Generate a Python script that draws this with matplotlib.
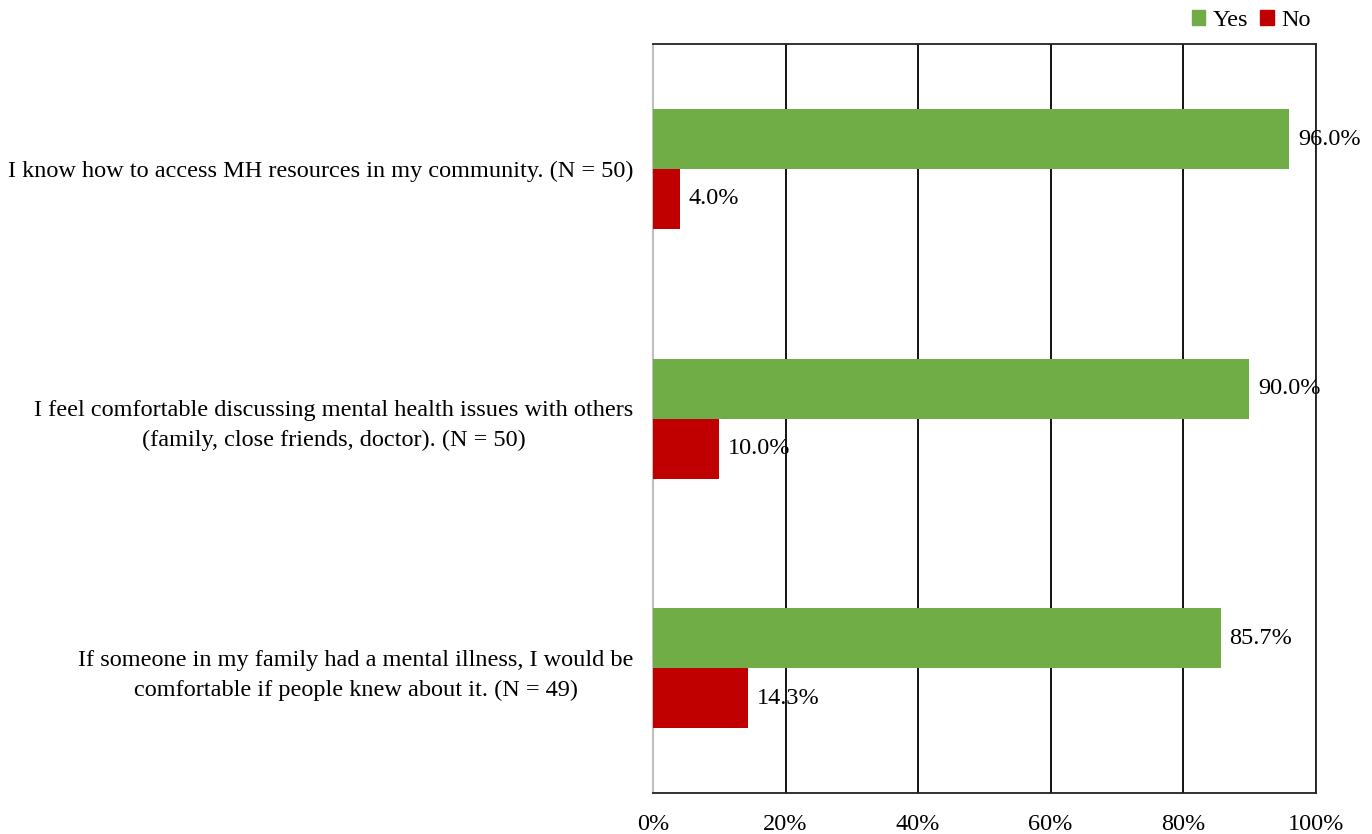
import matplotlib
matplotlib.use("Agg")
import matplotlib.pyplot as plt
from matplotlib.patches import Patch

plt.rcParams['font.family'] = ['Liberation Serif', 'DejaVu Serif']

categories = [
    "I know how to access MH resources in my community. (N = 50)",
    "I feel comfortable discussing mental health issues with others\n(family, close friends, doctor). (N = 50)",
    "If someone in my family had a mental illness, I would be\ncomfortable if people knew about it. (N = 49)",
]
yes_vals = [96.0, 90.0, 85.7]
no_vals = [4.0, 10.0, 14.3]
ticks = [0, 20, 40, 60, 80, 100]

green = "#70AD47"
red = "#C00000"
fs = 17.5

fig = plt.figure(figsize=(13.72, 8.34), dpi=100)
ax = fig.add_axes([0.476, 0.049, 0.483, 0.898])

pos = list(range(len(categories)))
h = 0.24
ax.barh([p - h / 2 for p in pos], yes_vals, height=h, color=green, zorder=3)
ax.barh([p + h / 2 for p in pos], no_vals, height=h, color=red, zorder=3)

for p, v in zip(pos, yes_vals):
    ax.text(v + 1.3, p - h / 2, f"{v:.1f}%", va="center", ha="left", fontsize=fs, zorder=5)
for p, v in zip(pos, no_vals):
    ax.text(v + 1.3, p + h / 2, f"{v:.1f}%", va="center", ha="left", fontsize=fs, zorder=5)

ax.set_xlim(0, 100)
ax.set_ylim(2.5, -0.5)
ax.set_xticks(ticks)
ax.set_xticklabels([f"{t}%" for t in ticks], fontsize=fs)
ax.set_yticks(pos)
ax.set_yticklabels(categories, fontsize=fs, multialignment="center", linespacing=1.55)
ax.tick_params(axis="y", length=0, pad=14)
ax.tick_params(axis="x", length=0, pad=15)
ax.xaxis.grid(True, color="black", linewidth=1.3, zorder=1)

for s in ["top", "right", "bottom"]:
    ax.spines[s].set_color("#222222")
    ax.spines[s].set_linewidth(1.3)
ax.spines["left"].set_color("#BFBFBF")
ax.spines["left"].set_linewidth(1.5)

handles = [Patch(color=green, label="Yes"), Patch(color=red, label="No")]
fig.legend(handles=handles, loc="upper right", bbox_to_anchor=(0.971, 1.014), ncol=2,
           frameon=False, fontsize=fs, handlelength=0.55, handleheight=0.55,
           handletextpad=0.3, columnspacing=0.5)

fig.savefig("out.png", dpi=100)
